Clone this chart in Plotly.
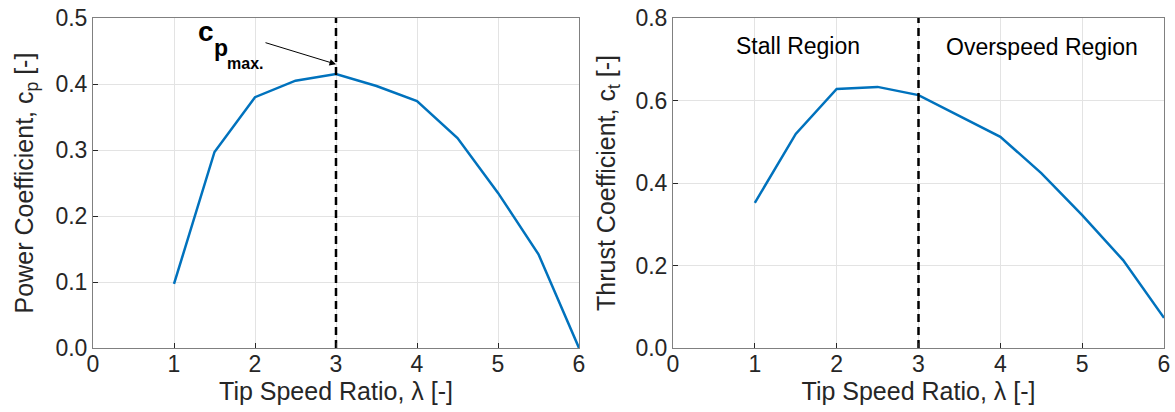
import plotly.graph_objects as go

tsr = [1, 1.5, 2, 2.5, 3, 3.5, 4, 4.5, 5, 5.5, 6]
cp = [0.097, 0.297, 0.380, 0.405, 0.415, 0.397, 0.374, 0.318, 0.235, 0.142, 0.0]
ct = [0.352, 0.519, 0.628, 0.633, 0.613, 0.562, 0.512, 0.424, 0.322, 0.213, 0.073]
lam_opt = 3
x_ticks = [0, 1, 2, 3, 4, 5, 6]
cp_ticks = [0.0, 0.1, 0.2, 0.3, 0.4, 0.5]
ct_ticks = [0.0, 0.2, 0.4, 0.6, 0.8]

FONT = "Liberation Sans, Arial, sans-serif"
W, H = 1175, 412
LINE = "#0072BD"

fig = go.Figure()
fig.add_trace(go.Scatter(x=tsr, y=cp, mode="lines", line=dict(color=LINE, width=2.5),
                         xaxis="x", yaxis="y", showlegend=False))
fig.add_trace(go.Scatter(x=tsr, y=ct, mode="lines", line=dict(color=LINE, width=2.5),
                         xaxis="x2", yaxis="y2", showlegend=False))
fig.add_trace(go.Scatter(x=[lam_opt, lam_opt], y=[0, 0.5], mode="lines",
                         line=dict(color="black", width=2.5, dash="8px,5px"),
                         xaxis="x", yaxis="y", showlegend=False))
fig.add_trace(go.Scatter(x=[lam_opt, lam_opt], y=[0, 0.8], mode="lines",
                         line=dict(color="black", width=2.5, dash="8px,5px"),
                         xaxis="x2", yaxis="y2", showlegend=False))

ydom = [1 - 348 / H, 1 - 18 / H]
axcommon = dict(showline=True, linecolor="#808080", linewidth=1, mirror=True,
                ticks="inside", ticklen=5, tickcolor="#262626", automargin=False,
                showgrid=True, gridcolor="#e3e3e3", gridwidth=1, zeroline=False,
                tickfont=dict(family=FONT, size=23, color="#262626"),
                title_font=dict(family=FONT, size=25, color="#262626"))
xextra = dict(ticklabelstandoff=-5)

fig.update_layout(
    width=W, height=H, margin=dict(l=0, r=0, t=0, b=0),
    paper_bgcolor="white", plot_bgcolor="white",
    xaxis=dict(domain=[93 / W, 579 / W], range=[0, 6], tickvals=x_ticks,
               title=dict(text="Tip Speed Ratio, λ [-]", standoff=0), anchor="y", **axcommon, **xextra),
    yaxis=dict(domain=ydom, range=[0, 0.5], tickvals=cp_ticks, tickformat=".1f",
               title=dict(text="Power Coefficient, c<sub>p</sub> [-]", standoff=14), anchor="x", **axcommon),
    xaxis2=dict(domain=[673 / W, 1164 / W], range=[0, 6], tickvals=x_ticks,
                title=dict(text="Tip Speed Ratio, λ [-]", standoff=0), anchor="y2", **axcommon, **xextra),
    yaxis2=dict(domain=ydom, range=[0, 0.8], tickvals=ct_ticks, tickformat=".1f",
                title=dict(text="Thrust Coefficient, c<sub>t</sub> [-]", standoff=12), anchor="x2", **axcommon),
)

def px(x, y):
    return dict(xref="paper", yref="paper", x=x / W, y=1 - y / H)

anns = [
    dict(text="<b>c</b>", font=dict(family=FONT, size=28, color="black"), **px(206, 32)),
    dict(text="<b>p</b>", font=dict(family=FONT, size=23, color="black"), **px(221, 48)),
    dict(text="<b>max.</b>", font=dict(family=FONT, size=16, color="black"), **px(245, 63)),
    dict(text="Stall Region", font=dict(family=FONT, size=23, color="black"), **px(798, 46)),
    dict(text="Overspeed Region", font=dict(family=FONT, size=23, color="black"), **px(1042, 47)),
]
for a in anns:
    a.update(showarrow=False, xanchor="center", yanchor="middle")
    fig.add_annotation(**a)

fig.add_annotation(xref="x", yref="y", x=lam_opt, y=0.43, axref="pixel", ayref="pixel",
                   ax=-72, ay=-22, showarrow=True, arrowhead=2, arrowsize=1.3,
                   arrowwidth=1, arrowcolor="black", text="", standoff=0)

fig.write_html("out.html")
